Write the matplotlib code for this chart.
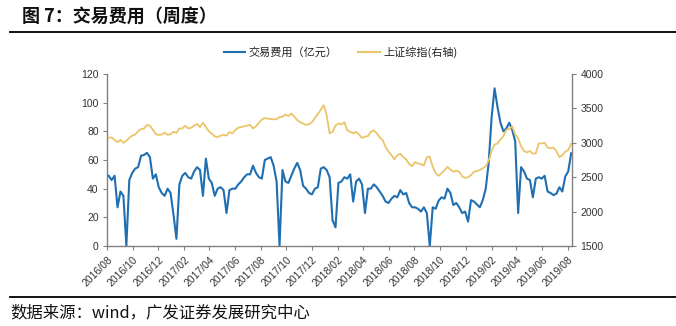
import matplotlib
matplotlib.use('Agg')
import matplotlib.pyplot as plt
import matplotlib.dates as mdates
from matplotlib.lines import Line2D
import pandas as pd

# ---- data ----
start_date = '2016-08-05'
fee = [49, 46, 49, 27, 38, 35, 0, 46, 51, 54,
       55, 63, 63.5, 65, 62, 47, 50, 41, 37, 35,
       40, 37, 22, 5, 43, 49, 51, 48, 47, 52,
       55, 53, 35, 61, 47, 44, 35, 40, 41, 39,
       23, 39, 40, 40, 43, 45, 48, 50, 50, 56,
       51, 48, 47, 60, 61, 62, 56, 45, 0, 53,
       45, 44, 49, 54, 58, 53, 42, 40, 37, 36,
       40, 41, 54, 55, 53, 48, 18, 13, 44, 45,
       48, 47, 50, 31, 45, 47, 43, 23, 40, 40,
       43, 41, 38, 35, 31, 30, 33, 35, 34, 39,
       36, 37, 30, 27, 27, 26, 24, 27, 23, 0,
       27, 26, 31.6, 34, 33, 40, 37, 28.6, 30, 27,
       23, 24, 17, 32, 31, 29, 27, 32, 40, 58,
       90, 110, 97, 86, 80, 82, 86, 81, 73, 23,
       55, 52, 47, 46, 34, 47, 48, 47, 49, 38,
       37, 35.5, 36.5, 41, 38, 48.5, 52, 64.7]
sh = [3073, 3079, 3042, 3010, 3042, 3000, 3030, 3073, 3104, 3120,
      3167, 3198, 3208, 3260, 3250, 3187, 3125, 3115, 3120, 3150,
      3115, 3125, 3160, 3146, 3208, 3208, 3250, 3208, 3219, 3250,
      3271, 3229, 3292, 3229, 3167, 3135, 3094, 3083, 3104, 3115,
      3104, 3156, 3135, 3187, 3219, 3229, 3240, 3250, 3260, 3208,
      3240, 3290, 3340, 3360, 3350, 3345, 3342, 3342, 3375, 3380,
      3410, 3390, 3425, 3380, 3330, 3300, 3280, 3260, 3270, 3300,
      3360, 3420, 3480, 3548, 3400, 3137, 3160, 3250, 3282, 3265,
      3300, 3180, 3160, 3137, 3160, 3120, 3070, 3090, 3097, 3160,
      3180, 3140, 3080, 3040, 2940, 2870, 2822, 2760, 2822, 2840,
      2790, 2760, 2690, 2660, 2720, 2700, 2690, 2670, 2790, 2800,
      2650, 2560, 2520, 2560, 2600, 2650, 2610, 2580, 2595, 2580,
      2510, 2490, 2500, 2530, 2580, 2590, 2604, 2630, 2660, 2740,
      2880, 2975, 2990, 3050, 3095, 3190, 3200, 3240, 3120, 3064,
      2950, 2880, 2860, 2880, 2840, 2850, 2990, 2990, 3000, 2930,
      2920, 2930, 2880, 2790, 2822, 2870, 2895, 2990]
left_ticks = [0, 20, 40, 60, 80, 100, 120]
right_ticks = [1500, 2000, 2500, 3000, 3500, 4000]
series_names = ['交易费用（亿元）', '上证综指(右轴)']
title = '图 7：交易费用（周度）'
source = '数据来源：wind，广发证券发展研究中心'

dates = pd.date_range(start_date, periods=len(fee), freq='7D')

BLUE = '#1F6FB2'
YELLOW = '#EAC56A'
CJK = ['Noto Sans CJK SC', 'DejaVu Sans']
plt.rcParams['font.family'] = ['Liberation Sans', 'Noto Sans CJK SC', 'DejaVu Sans']

W, H = 676, 326
fig = plt.figure(figsize=(W / 100, H / 100), dpi=100)
ax = fig.add_axes([107 / W, (H - 246) / H, 465 / W, 172 / H])
ax.plot(dates, fee, color=BLUE, lw=1.5, zorder=3)
ax2 = ax.twinx()
ax2.plot(dates, sh, color=YELLOW, lw=1.3)

ax.set_ylim(0, 120)
ax.set_yticks(left_ticks)
ax2.set_ylim(1500, 4000)
ax2.set_yticks(right_ticks)
ax.set_xlim(pd.Timestamp('2016-08-01'), pd.Timestamp('2019-08-11'))
ax.xaxis.set_major_locator(mdates.MonthLocator(bymonth=[2, 4, 6, 8, 10, 12]))
ax.xaxis.set_major_formatter(mdates.DateFormatter('%Y/%m'))

SP = '#808080'
for a in (ax, ax2):
    a.spines['top'].set_visible(False)
    for s in ('left', 'right', 'bottom'):
        a.spines[s].set_color(SP)
        a.spines[s].set_linewidth(1.0)
    a.tick_params(axis='both', direction='out', length=3, width=0.8, color=SP,
                  labelsize=7.5, labelcolor='#333333', pad=3)
ax.spines['right'].set_visible(False)
ax2.spines['left'].set_visible(False)
ax2.spines['bottom'].set_visible(False)
for lab in ax.get_xticklabels():
    lab.set_rotation(45)
    lab.set_ha('right')
    lab.set_va('top')
    lab.set_rotation_mode('anchor')

# title and rules
fig.text(22 / W, 1 - 17 / H, title, family=CJK, fontsize=13, fontweight='bold',
         va='center', ha='left', color='#111111')
fig.add_artist(Line2D([10 / W, 1.0], [1 - 31.5 / H] * 2, color='black', lw=1.3))
fig.add_artist(Line2D([10 / W, 1.0], [1 - 297 / H] * 2, color='black', lw=1.3))
fig.text(10 / W, 1 - 313 / H, source, family=CJK, fontsize=11.8, va='center',
         ha='left', color='#111111')

# legend
ly = 1 - 52 / H
fig.add_artist(Line2D([224 / W, 245 / W], [ly, ly], color=BLUE, lw=1.5))
fig.text(248 / W, ly, series_names[0], family=CJK, fontsize=8, va='center', ha='left', color='#222222')
fig.add_artist(Line2D([358 / W, 380 / W], [ly, ly], color=YELLOW, lw=1.5))
fig.text(383 / W, ly, series_names[1], family=CJK, fontsize=8, va='center', ha='left', color='#222222')

fig.savefig('out.png', dpi=100)
